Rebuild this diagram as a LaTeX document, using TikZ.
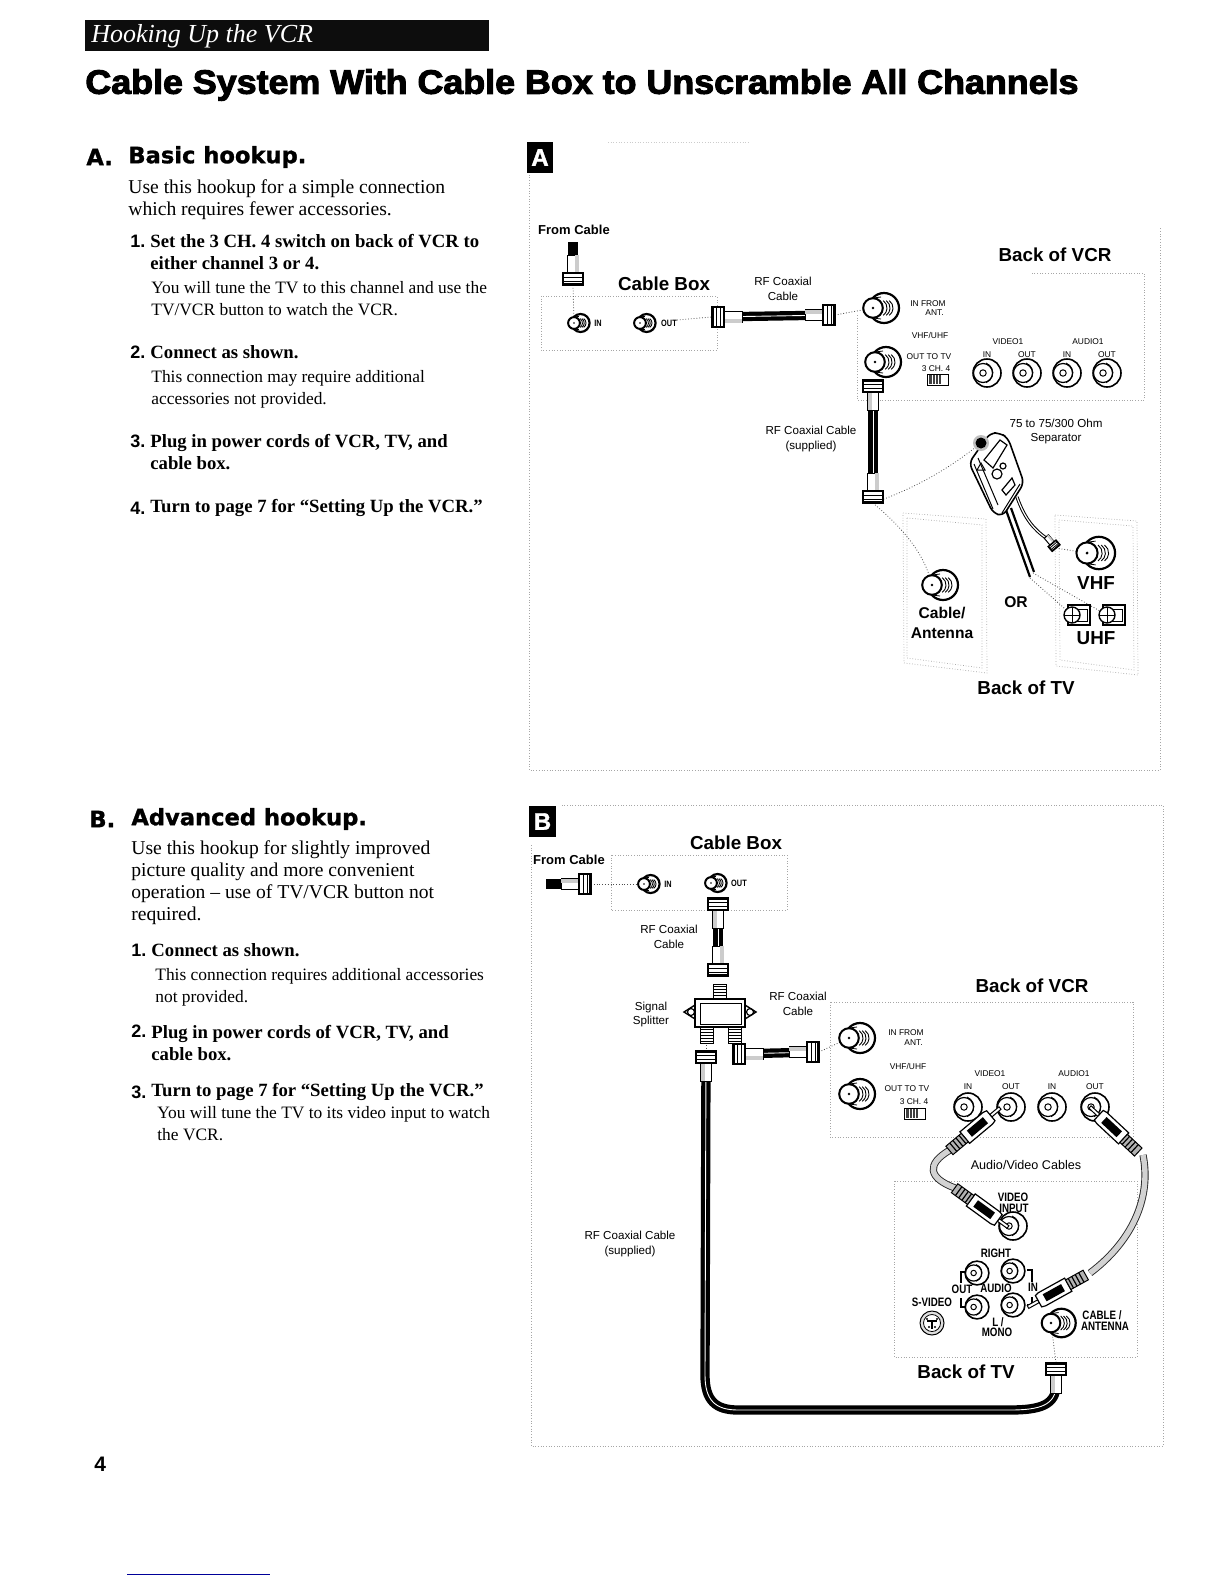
\documentclass[tikz,border=0pt]{standalone}
\usepackage{fontspec}
\setmainfont{Liberation Serif}
\setsansfont{Liberation Sans}
\newfontfamily\headfont[FakeBold=1.2]{DejaVu Sans}
\newfontfamily\titlefont[FakeBold=3,FakeStretch=1.06]{Liberation Sans}
\newfontfamily\heavyfont[FakeBold=1.5]{Liberation Sans}
\newfontfamily\narrowfont[FakeStretch=.8]{Liberation Sans}
\tikzset{
	fport/.pic={
		\draw[fill=white, line width=1.1pt] (11,0) circle (15);
		\draw[line width=.4pt] (0,-10) -- (8,-11) (0,10) -- (8,11);
		\draw[line width=.45pt] (10.2,-7.4) arc[start angle=-55, end angle=55, radius=9];
		\draw[line width=.45pt] (13.2,-7.4) arc[start angle=-55, end angle=55, radius=9];
		\draw[line width=.45pt] (16.2,-7.4) arc[start angle=-55, end angle=55, radius=9];
		\draw[fill=white, line width=1pt] (0,0) circle (9.8);
		\fill (0,0) circle (1.4);
	},
	rcajack/.pic={
		\draw[fill=white, line width=.8pt] (0,0) circle (14);
		\draw[line width=.4pt] (-1,-10) arc[start angle=-70, end angle=70, radius=10.5];
		\draw[fill=white, line width=.6pt] (-4,0) circle (9.5);
		\draw[line width=.5pt] (-4,0) circle (3.2);
	},
	coaxend/.pic={
		\draw[fill=white, line width=.5pt] (12,-5.5) rectangle (30,5.5);
		\fill[gray!40] (12,1.5) rectangle (30,5.5);
		\draw[fill=white, line width=.8pt] (0,-10) rectangle (12,10);
		\draw[line width=.4pt] (4,-10) -- (4,10) (8,-10) -- (8,10);
		\fill (0,-10) rectangle (2,10);
	},
	rcaplug/.pic={
		\draw[fill=white, line width=.5pt] (0,-1.6) rectangle (12,1.6);
		\draw[fill=white, line width=.6pt] (12,-6.5) -- (16,-7.5) -- (46,-7.5) -- (46,7.5) -- (16,7.5) -- (12,6.5) -- cycle;
		\fill (19,-4) rectangle (40,4);
		\draw[fill=gray!60, line width=.5pt] (46,-5.5) rectangle (66,5.5);
		\foreach \t in {49,53,57,61}
			\draw[line width=.6pt] (\t,-5.5) -- (\t,5.5);
	},
	chswitch/.pic={
		\draw[fill=white, line width=.5pt] (0,0) rectangle (21,11);
		\fill[black!75] (2,1) rectangle (14,10);
		\draw[white, line width=.3pt] (5,1) -- (5,10) (8,1) -- (8,10) (11,1) -- (11,10);
	},
	uhfterm/.pic={
		\draw[fill=white, line width=.9pt] (-4,-10) rectangle (18,10);
		\draw[line width=.4pt] (5,-6) -- (15,-6) -- (15,6) -- (5,6);
		\draw[fill=white, line width=.7pt] (0,0) circle (8);
		\draw[line width=.5pt] (-8,0) -- (8,0) (0,-8) -- (0,8);
	},
	svideo/.pic={
		\draw[fill=gray!25, line width=.5pt] (0,0) circle (12);
		\draw[fill=white, line width=.4pt] (0,0) circle (8.5);
		\draw[line width=.8pt] (-5,-2) -- (5,-2) (0,-2) -- (0,6);
		\foreach \p in {(-5,-4),(5,-4),(-3,4),(3,4)}
			\fill \p circle (1.1);
	},
	threadstub/.pic={
		\draw[fill=white, line width=.5pt] (-6.5,0) rectangle (6.5,16);
		\foreach \t in {2,5,8,11,14}
			\draw[line width=.5pt] (-6.5,\t) -- (6.5,\t);
	},
}
\begin{document}
\begin{tikzpicture}[x=.5bp, y=-.5bp, every node/.style={inner sep=0pt},
	bodytext/.style={anchor=west, align=left, font=\fontsize{9.8bp}{11bp}\selectfont},
	steptext/.style={anchor=west, align=left, font=\bfseries\fontsize{9.35bp}{11.3bp}\selectfont},
	notetext/.style={anchor=west, align=left, font=\fontsize{8.7bp}{11bp}\selectfont},
	stepnum/.style={anchor=west, font=\sffamily\bfseries\fontsize{9bp}{11bp}\selectfont},
	headtext/.style={anchor=west, font=\headfont\bfseries\fontsize{11.3bp}{12bp}\selectfont},
	badge/.style={white, font=\heavyfont\bfseries\fontsize{12bp}{13bp}\selectfont},
	biglabel/.style={align=center, font=\sffamily\bfseries\fontsize{9.4bp}{11bp}\selectfont},
	tvlabel/.style={align=center, font=\sffamily\bfseries\fontsize{7.8bp}{10bp}\selectfont},
	fromlabel/.style={font=\sffamily\bfseries\fontsize{6.5bp}{8bp}\selectfont},
	midlabel/.style={align=center, font=\sffamily\fontsize{5.8bp}{7.4bp}\selectfont},
	smalllabel/.style={font=\sffamily\fontsize{4.2bp}{5bp}\selectfont},
	jacklabel/.style={font=\narrowfont\bfseries\fontsize{6.1bp}{6.5bp}\selectfont},
	portlabel/.style={font=\narrowfont\bfseries\fontsize{4.6bp}{5bp}\selectfont},
	panelframe/.style={gray!70, densely dotted, line width=.35pt},
	link/.style={gray!60!black, densely dotted, line width=.4pt},
	coax/.style={draw=black, double=white, double distance=.45bp, line width=2.1bp},
	avcable/.style={draw=black!85, double=gray!35, double distance=2.7bp, line width=.45bp},
	partline/.style={line width=.8pt}]
	\useasboundingbox (0,0) rectangle (1224,1584);
	\fill[white] (0,0) rectangle (1224,1584);

	% page heading
	\fill[black!95] (85,20) rectangle (489,51);
	\node[anchor=west, white, font=\itshape\fontsize{13bp}{15bp}\selectfont] (pageHead) at (91,36) {Hooking Up the VCR};
	\node[anchor=west, font=\titlefont\bfseries\fontsize{16.9bp}{20bp}\selectfont] (pageTitle) at (85,85) {Cable System With Cable Box to Unscramble All Channels};

	% left column, hookup A
	\node[headtext] (aLetter) at (86,157) {A.};
	\node[headtext] (aHead) at (128,157) {Basic hookup.};
	\node[bodytext] (aIntro) at (128,200) {Use this hookup for a simple connection\\which requires fewer accessories.};
	\node[stepnum] (aNumOne) at (130,241) {1.};
	\node[steptext] (aOne) at (150,252) {Set the 3 CH. 4 switch on back of VCR to\\either channel 3 or 4.};
	\node[notetext] (aOneNote) at (151,299) {You will tune the TV to this channel and use the\\TV/VCR button to watch the VCR.};
	\node[stepnum] (aNumTwo) at (130,352) {2.};
	\node[steptext] (aTwo) at (150,352) {Connect as shown.};
	\node[notetext] (aTwoNote) at (151,389) {This connection may require additional\\accessories not provided.};
	\node[stepnum] (aNumThree) at (130,441) {3.};
	\node[steptext] (aThree) at (150,452) {Plug in power cords of VCR, TV, and\\cable box.};
	\node[stepnum] (aNumFour) at (130,508) {4.};
	\node[steptext] (aFour) at (150,508) {Turn to page 7 for ``Setting Up the VCR.''};

	% left column, hookup B
	\node[headtext] (bLetter) at (89,819) {B.};
	\node[headtext] (bHead) at (131,819) {Advanced hookup.};
	\node[bodytext] (bIntro) at (131,883) {Use this hookup for slightly improved\\picture quality and more convenient\\operation -- use of TV/VCR button not\\required.};
	\node[stepnum] (bNumOne) at (131,950) {1.};
	\node[steptext] (bOne) at (151,950) {Connect as shown.};
	\node[notetext] (bOneNote) at (155,987) {This connection requires additional accessories\\not provided.};
	\node[stepnum] (bNumTwo) at (131,1031) {2.};
	\node[steptext] (bTwo) at (151,1043) {Plug in power cords of VCR, TV, and\\cable box.};
	\node[stepnum] (bNumThree) at (131,1092) {3.};
	\node[steptext] (bThree) at (151,1092) {Turn to page 7 for ``Setting Up the VCR.''};
	\node[notetext] (bThreeNote) at (157,1124) {You will tune the TV to its video input to watch\\the VCR.};

	\node[anchor=west, font=\sffamily\bfseries\fontsize{10.5bp}{12bp}\selectfont] (pageNum) at (94,1464) {4};
	\draw[blue!60!black, line width=.5pt] (127,1574) -- (270,1574);

	% panel A
	\draw[panelframe] (529,145) -- (529,770) -- (1160,770) -- (1160,228);
	\draw[panelframe, gray!40] (608,142) -- (750,142);
	\fill[black] (527,142) rectangle (553,173);
	\node[badge] (aBadge) at (540,157.5) {A};
	\node[fromlabel] (aFrom) at (574,230) {From Cable};
	\node[biglabel] (aBoxLabel) at (664,284) {Cable Box};
	\node[biglabel] (aVcrLabel) at (1055,255) {Back of VCR};
	\node[midlabel] (aCableLabel) at (783,288.5) {RF Coaxial\\Cable};
	\node[midlabel] (aSupplied) at (811,439) {RF Coaxial Cable\\(supplied)};
	\node[midlabel] (aSepLabel) at (1056,431.5) {75 to 75/300 Ohm\\Separator};
	\node[tvlabel] (aAntLabel) at (942,623) {Cable/\\Antenna};
	\node[tvlabel] (aOr) at (1016,602) {OR};
	\node[biglabel] (aVhf) at (1096,583) {VHF};
	\node[biglabel] (aUhf) at (1096,638) {UHF};
	\node[biglabel] (aTvLabel) at (1026,688) {Back of TV};

	\draw[panelframe] (541,296) rectangle (717,350);
	\draw[panelframe] (857,315) -- (857,400) -- (1144,400) -- (1144,273) -- (1030,273);
	\draw[panelframe] (903,513) -- (986,519) -- (987,673) -- (904,663) -- cycle;
	\draw[panelframe] (907,518) -- (982,525) -- (982,668) -- (907,658) -- cycle;
	\draw[panelframe] (1055,515) -- (1137,521) -- (1138,675) -- (1056,666) -- cycle;
	\draw[panelframe] (1059,520) -- (1133,526) -- (1134,670) -- (1060,660) -- cycle;

	\coordinate (aBoxIn) at (574,323);
	\coordinate (aBoxOut) at (640,323);
	\coordinate (aVcrIn) at (873,308);
	\coordinate (aVcrOut) at (875,362);
	\coordinate (aDropTop) at (573,285);
	\coordinate (aDropEnd) at (573,242);
	\coordinate (aLeftNut) at (712,317);
	\coordinate (aRightNut) at (835,315);
	\coordinate (aOutDots) at (677,320);
	\coordinate (aVertTop) at (873,380);
	\coordinate (aVertEnd) at (873,503);
	\coordinate (aKnob) at (981,443);
	\coordinate (aAntPort) at (932,585);
	\coordinate (aVhfPort) at (1087,553);
	\coordinate (aVhfPlug) at (1056,548);
	\coordinate (aForkA) at (1033,573);
	\coordinate (aForkB) at (1030,578);
	\coordinate (aUhfA) at (1072,615);
	\coordinate (aUhfB) at (1107,615);
	\coordinate (aSepRight) at (1017,497);

	\draw[link] (aDropTop) -- (aBoxIn);
	\draw[link] (aOutDots) -- (aLeftNut);
	\draw[link] (aRightNut) -- (aVcrIn);
	\draw[link] (aVertEnd) .. controls (925,485) and (960,460) .. (aKnob);
	\draw[link] (aVertEnd) .. controls (905,530) and (925,555) .. (aAntPort);
	\draw[link] (aVhfPlug) -- (aVhfPort);
	\draw[link] (aForkA) -- (aUhfB);
	\draw[link] (aForkB) -- (aUhfA);

	\draw[line width=4.6bp] (aDropEnd) -- (aDropTop);
	\pic[rotate=90] at (aDropTop) {coaxend};
	\pic[scale=.6] at (aBoxIn) {fport};
	\pic[scale=.6] at (aBoxOut) {fport};
	\node[portlabel] (aInLabel) at (598,323) {IN};
	\node[portlabel] (aOutLabel) at (669,323) {OUT};
	\draw[coax] (aLeftNut) -- (aRightNut);
	\pic at (aLeftNut) {coaxend};
	\pic[rotate=180] at (aRightNut) {coaxend};
	\draw[coax] (aVertTop) -- (aVertEnd);
	\pic[rotate=-90] at (aVertTop) {coaxend};
	\pic[rotate=90] at (aVertEnd) {coaxend};
	\pic at (aVcrIn) {fport};
	\pic at (aVcrOut) {fport};
	\pic at (aAntPort) {fport};
	\pic[scale=1.08] at (aVhfPort) {fport};
	\pic at (aUhfA) {uhfterm};
	\pic at (aUhfB) {uhfterm};

	\node[smalllabel] (aInFrom) at (928,304) {IN FROM};
	\node[smalllabel, anchor=east] (aAnt) at (944,313) {ANT.};
	\node[smalllabel] (aVhfUhf) at (930,335) {VHF/UHF};
	\node[smalllabel] (aOutTv) at (929,357) {OUT TO TV};
	\node[smalllabel] (aCh) at (936,369) {3 CH. 4};
	\pic at (927,374) {chswitch};
	\node[smalllabel] (aVideo) at (1008,342) {VIDEO1};
	\node[smalllabel] (aAudio) at (1088,342) {AUDIO1};
	\node[smalllabel] (aVideoIn) at (987,355) {IN};
	\node[smalllabel] (aVideoOut) at (1027,355) {OUT};
	\node[smalllabel] (aAudioIn) at (1067,355) {IN};
	\node[smalllabel] (aAudioOut) at (1107,355) {OUT};
	\foreach \x in {987,1027,1067,1107}
		\pic at (\x,373) {rcajack};

	% separator
	\draw[line width=1.1pt] (1006,510) -- (1030,577);
	\draw[line width=1.1pt] (1011,508) -- (1034,572);
	\draw[white, line width=.3pt] (1008.5,509) -- (1032,574);
	\draw[draw=black, double=white, double distance=.6bp, line width=.5bp] (aSepRight) .. controls (1025,520) and (1035,530) .. (1046,538);
	\pic[rotate=130, scale=.5] at (aVhfPlug) {coaxend};
	\draw[fill=white, partline, rounded corners=3pt] (969,463) -- (990,433) -- (1000,433) -- (1008,438) -- (1024,483) -- (1003,516) -- (993,513) -- cycle;
	\draw[line width=.5pt] (974,464) -- (993,509) (978,458) -- (998,505) (1002,513) -- (1020,484);
	\draw[fill=white, line width=.6pt] (984,460) -- (1000,440) -- (1007,445) -- (993,468) -- cycle;
	\draw[fill=white, line width=.6pt] (1002,490) -- (1012,478) -- (1015,485) -- (1006,495) -- cycle;
	\draw[line width=.5pt] (981,463) -- (985,470) -- (977,470) -- cycle;
	\draw[line width=.6pt] (997,474) circle (5) (1003,466) circle (3);
	\fill[gray!50] (aKnob) circle (8);
	\fill (aKnob) circle (5.5);

	% panel B
	\draw[panelframe] (531,845) -- (531,1446) -- (1163,1446) -- (1163,805) -- (560,805);
	\fill[black] (529,806) rectangle (556,837);
	\node[badge] (bBadge) at (542.5,821.5) {B};
	\node[fromlabel] (bFrom) at (569,860) {From Cable};
	\node[biglabel] (bBoxLabel) at (736,843) {Cable Box};
	\node[biglabel] (bVcrLabel) at (1032,986) {Back of VCR};
	\node[biglabel] (bTvLabel) at (966,1372) {Back of TV};
	\node[midlabel] (bCableOne) at (669,936.5) {RF Coaxial\\Cable};
	\node[midlabel] (bCableTwo) at (798,1003.5) {RF Coaxial\\Cable};
	\node[midlabel] (bSplitLabel) at (651,1014.5) {Signal\\Splitter};
	\node[midlabel] (bSupplied) at (630,1244) {RF Coaxial Cable\\(supplied)};
	\node[midlabel, font=\sffamily\fontsize{6.3bp}{7.4bp}\selectfont] (bAvLabel) at (1026,1165) {Audio/Video Cables};

	\draw[panelframe] (611,855) rectangle (787,910);
	\draw[panelframe] (830,1002) rectangle (1133,1137);
	\draw[panelframe] (894,1181) rectangle (1137,1357);

	\coordinate (bPlugNut) at (591,884);
	\coordinate (bPlugEnd) at (546,884);
	\coordinate (bBoxIn) at (644,884);
	\coordinate (bBoxOut) at (711,883);
	\coordinate (bUpTop) at (718,898);
	\coordinate (bUpEnd) at (718,976);
	\coordinate (bStubLeft) at (706,1042);
	\coordinate (bLongTop) at (706,1051);
	\coordinate (bLongEnd) at (1056,1385);
	\coordinate (bBend) at (733,1054);
	\coordinate (bBendEnd) at (819,1052);
	\coordinate (bVcrIn) at (849,1038);
	\coordinate (bVcrOut) at (849,1094);
	\coordinate (bTvAnt) at (1051,1323);
	\coordinate (bTvPlug) at (1056,1363);
	\coordinate (bTipA) at (1000,1108);
	\coordinate (bTipB) at (1008,1227);
	\coordinate (bTipC) at (1090,1107);
	\coordinate (bTipD) at (1028,1307);
	\coordinate (bVideoIn) at (1013,1226);

	\draw[link] (bPlugNut) -- (bBoxIn);
	\draw[link] (bBendEnd) -- (bVcrIn);
	\draw[link] (bStubLeft) -- (bLongTop);
	\draw[link] (bTvAnt) -- (bTvPlug);

	\draw[line width=5bp] (bPlugEnd) -- (bPlugNut);
	\pic[rotate=180] at (bPlugNut) {coaxend};
	\pic[scale=.6] at (bBoxIn) {fport};
	\pic[scale=.6] at (bBoxOut) {fport};
	\node[portlabel] (bInLabel) at (668,884) {IN};
	\node[portlabel] (bOutLabel) at (739,883) {OUT};
	\draw[coax] (bUpTop) -- (bUpEnd);
	\pic[rotate=-90] at (bUpTop) {coaxend};
	\pic[rotate=90] at (bUpEnd) {coaxend};

	% splitter
	\pic at (720,984) {threadstub};
	\pic at (706.5,1027) {threadstub};
	\pic at (734.5,1027) {threadstub};
	\draw[fill=white, line width=.7pt] (695,1005) -- (684,1012) -- (695,1019) -- cycle (745,1005) -- (756,1012) -- (745,1019) -- cycle;
	\draw[line width=.6pt] (691,1012) circle (3.5) (750,1012) circle (3.5);
	\draw[fill=white, line width=1.3pt] (695,999) rectangle (745,1027);
	\draw[line width=.4pt] (700,1003) rectangle (741,1024);

	\draw[coax] (bBend) -- (bBendEnd);
	\pic at (bBend) {coaxend};
	\pic[rotate=180] at (bBendEnd) {coaxend};
	\draw[coax] (bLongTop) -- (705,1375) .. controls (705,1400) and (715,1410) .. (738,1410) -- (1010,1410) .. controls (1040,1410) and (1056,1405) .. (bLongEnd);
	\pic[rotate=-90] at (bLongTop) {coaxend};
	\pic[rotate=-90] at (bTvPlug) {coaxend};
	\pic at (bVcrIn) {fport};
	\pic at (bVcrOut) {fport};
	\pic[scale=.95] at (bTvAnt) {fport};

	\node[smalllabel] (bInFrom) at (906,1033) {IN FROM};
	\node[smalllabel, anchor=east] (bAnt) at (923,1043) {ANT.};
	\node[smalllabel] (bVhfUhf) at (908,1066) {VHF/UHF};
	\node[smalllabel] (bOutTv) at (907,1089) {OUT TO TV};
	\node[smalllabel] (bCh) at (914,1102) {3 CH. 4};
	\pic at (904,1108) {chswitch};
	\node[smalllabel] (bVideo) at (990,1074) {VIDEO1};
	\node[smalllabel] (bAudio) at (1074,1074) {AUDIO1};
	\node[smalllabel] (bVideoLeft) at (968,1087) {IN};
	\node[smalllabel] (bVideoRight) at (1011,1087) {OUT};
	\node[smalllabel] (bAudioLeft) at (1052,1087) {IN};
	\node[smalllabel] (bAudioRight) at (1095,1087) {OUT};
	\foreach \x in {968,1011,1052,1095}
		\pic at (\x,1107) {rcajack};

	% back of TV jacks
	\pic at (bVideoIn) {rcajack};
	\foreach \p in {(977,1273),(1013,1271),(977,1307),(1013,1305)}
		\pic[scale=.85] at \p {rcajack};
	\pic at (932,1323) {svideo};
	\node[jacklabel] (bVideoTop) at (1013,1197) {VIDEO};
	\node[jacklabel] (bVideoBot) at (1014,1208) {INPUT};
	\node[jacklabel] (bRight) at (996,1253) {RIGHT};
	\node[jacklabel] (bAudioOut) at (962,1289) {OUT};
	\node[jacklabel] (bAudioMid) at (996,1288) {AUDIO};
	\node[jacklabel] (bAudioTvIn) at (1033,1287) {IN};
	\node[jacklabel] (bSvideo) at (932,1302) {S-VIDEO};
	\node[jacklabel] (bLeft) at (998,1322) {L /};
	\node[jacklabel] (bMono) at (997,1332) {MONO};
	\node[jacklabel] (bCableTv) at (1102,1315) {CABLE /};
	\node[jacklabel] (bAntTv) at (1105,1326) {ANTENNA};
	\draw[line width=.6pt] (966,1272) -- (961,1272) -- (961,1283) (961,1298) -- (961,1307) -- (966,1307);
	\draw[line width=.6pt] (1027,1270) -- (1032,1270) -- (1032,1282) (1032,1297) -- (1032,1305) -- (1027,1305);

	% audio/video cables
	\draw[avcable] (950,1150) .. controls (926,1164) and (928,1178) .. (955,1188);
	\draw[avcable] (1143,1155) .. controls (1152,1200) and (1130,1243) .. (1090,1273);
	\pic[rotate=-140] at (bTipA) {rcaplug};
	\pic[rotate=144] at (bTipB) {rcaplug};
	\pic[rotate=-43] at (bTipC) {rcaplug};
	\pic[rotate=29] at (bTipD) {rcaplug};
\end{tikzpicture}
\end{document}
